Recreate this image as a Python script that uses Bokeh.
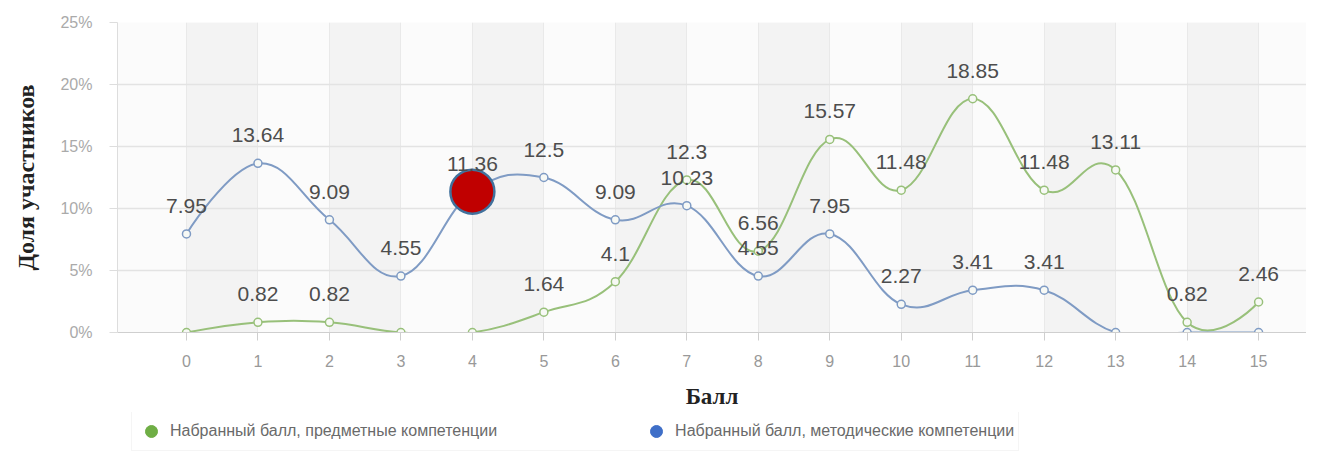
from bokeh.plotting import figure
from bokeh.layouts import column
from bokeh.models import (ColumnDataSource, FixedTicker, PrintfTickFormatter,
                          LabelSet, Legend, LegendItem)
from bokeh.core.properties import value
from bokeh.embed import file_html
from bokeh.resources import INLINE

# ---- data ----
scores = list(range(16))
subject = [0, 0.82, 0.82, 0, 0, 1.64, 4.1, 12.3, 6.56, 15.57, 11.48, 18.85, 11.48, 13.11, 0.82, 2.46]
method = [7.95, 13.64, 9.09, 4.55, 11.36, 12.5, 9.09, 10.23, 4.55, 7.95, 2.27, 3.41, 3.41, 0, 0, 0]
y_ticks = [0, 5, 10, 15, 20, 25]
series_names = ["Набранный балл, предметные компетенции", "Набранный балл, методические компетенции"]
highlight_index = 4

GREEN = "#98c07a"
BLUE = "#7f9bc4"
GREEN_LEG = "#6fae45"
BLUE_LEG = "#3f6fc8"


def spline_segments(xs, ys, smoothing=1.5):
    """Bezier control points of a Highcharts-style spline through the data points."""
    n = len(xs)
    denom = smoothing + 1
    lx, ly, rx, ry = list(xs), list(ys), list(xs), list(ys)
    for i in range(1, n - 1):
        a = (smoothing * xs[i] + xs[i - 1]) / denom
        b = (smoothing * ys[i] + ys[i - 1]) / denom
        c = (smoothing * xs[i] + xs[i + 1]) / denom
        d = (smoothing * ys[i] + ys[i + 1]) / denom
        corr = ((d - b) * (c - xs[i])) / (c - a) + ys[i] - d
        lx[i], ly[i], rx[i], ry[i] = a, b + corr, c, d + corr
    return dict(x0=xs[:-1], y0=ys[:-1], x1=xs[1:], y1=ys[1:],
                cx0=rx[:-1], cy0=ry[:-1], cx1=lx[1:], cy1=ly[1:])


p = figure(width=1306, height=412, output_backend="svg", toolbar_location=None,
           x_range=(-0.965, 15.67), y_range=(0, 25),
           min_border_left=117, min_border_right=0, min_border_top=22, min_border_bottom=80)
p.background_fill_color = "#fbfbfb"
p.border_fill_color = "white"
p.outline_line_color = None

# grids
p.xgrid.ticker = FixedTicker(ticks=scores)
p.xgrid.grid_line_color = "#e9e9e9"
p.xgrid.band_fill_color = "#f0f0f0"
p.xgrid.band_fill_alpha = 0.75
p.ygrid.ticker = FixedTicker(ticks=y_ticks)
p.ygrid.grid_line_color = "#e3e3e3"
p.ygrid.grid_line_width = 1.5

# axes
p.xaxis.ticker = FixedTicker(ticks=scores)
p.xaxis.axis_line_color = "#cfcfcf"
p.xaxis.major_tick_line_color = "#cfcfcf"
p.xaxis.major_tick_out = 8
p.xaxis.major_tick_in = 0
p.xaxis.minor_tick_line_color = None
p.xaxis.major_label_text_color = "#999999"
p.xaxis.major_label_text_font = "Liberation Sans"
p.xaxis.major_label_text_font_size = "16px"
p.xaxis.major_label_standoff = 14
p.xaxis.axis_label = "Балл"
p.xaxis.axis_label_text_font = "Liberation Serif"
p.xaxis.axis_label_text_font_style = "bold"
p.xaxis.axis_label_text_font_size = "23px"
p.xaxis.axis_label_text_color = "#222222"
p.xaxis.axis_label_standoff = 14

p.yaxis.ticker = FixedTicker(ticks=y_ticks)
p.yaxis.formatter = PrintfTickFormatter(format="%d%%")
p.yaxis.axis_line_color = "#dddddd"
p.yaxis.major_tick_line_color = "#dddddd"
p.yaxis.major_tick_out = 8
p.yaxis.major_tick_in = 0
p.yaxis.minor_tick_line_color = None
p.yaxis.major_label_text_color = "#aaaaaa"
p.yaxis.major_label_text_font = "Liberation Sans"
p.yaxis.major_label_text_font_size = "16px"
p.yaxis.major_label_standoff = 17
p.yaxis.axis_label = "Доля участников"
p.yaxis.axis_label_text_font = "Liberation Serif"
p.yaxis.axis_label_text_font_style = "bold"
p.yaxis.axis_label_text_font_size = "24px"
p.yaxis.axis_label_text_color = "#222222"
p.yaxis.axis_label_standoff = 18

# lines
for vals, col in ((subject, GREEN), (method, BLUE)):
    seg = ColumnDataSource(spline_segments([float(s) for s in scores], [float(v) for v in vals]))
    p.bezier(x0="x0", y0="y0", x1="x1", y1="y1", cx0="cx0", cy0="cy0", cx1="cx1", cy1="cy1",
             source=seg, line_color=col, line_width=2)

for vals, col in ((subject, GREEN), (method, BLUE)):
    p.scatter(scores, vals, size=8, fill_color="#f7f9f5", line_color=col, line_width=1.5)

# data labels (non-zero values)
for vals in (subject, method):
    xs = [s for s, v in zip(scores, vals) if v != 0]
    ys = [v for v in vals if v != 0]
    txt = [f"{v:g}" for v in ys]
    src = ColumnDataSource(dict(x=xs, y=ys, t=txt))
    p.add_layout(LabelSet(x="x", y="y", text="t", source=src, y_offset=28,
                          text_align="center", text_baseline="middle",
                          text_font=value("Liberation Sans"), text_font_size="21px",
                          text_color="#4d4d4d"))

# highlight marker
p.scatter([scores[highlight_index]], [method[highlight_index]], size=44,
          fill_color="#c00000", line_color="#41719c", line_width=2.5)

# legend in its own strip below the chart
lg = figure(width=1306, height=39, output_backend="svg", toolbar_location=None,
            x_range=(0, 1), y_range=(0, 1), x_axis_location=None, y_axis_location=None,
            min_border=0)
lg.grid.visible = False
lg.outline_line_color = None
lg.background_fill_color = "white"
lg.border_fill_color = "white"
r1 = lg.scatter(x=[-5], y=[-5], size=13, fill_color=GREEN_LEG, line_color=GREEN_LEG)
r2 = lg.scatter(x=[-5], y=[-5], size=13, fill_color=BLUE_LEG, line_color=BLUE_LEG)
legend = Legend(items=[LegendItem(label=series_names[0], renderers=[r1]),
                       LegendItem(label=series_names[1], renderers=[r2])],
                orientation="horizontal", location=(14, 0),
                label_text_font="Liberation Sans", label_text_font_size="16px",
                label_text_color="#6a6a6a", glyph_width=30, glyph_height=30,
                label_standoff=4, spacing=144, padding=4, margin=0,
                label_height=16,
                border_line_color="#ececec", background_fill_color="white",
                background_fill_alpha=1)
lg.add_layout(legend, "center")

open("out.html", "w").write(file_html(column(p, lg, spacing=0), INLINE))
